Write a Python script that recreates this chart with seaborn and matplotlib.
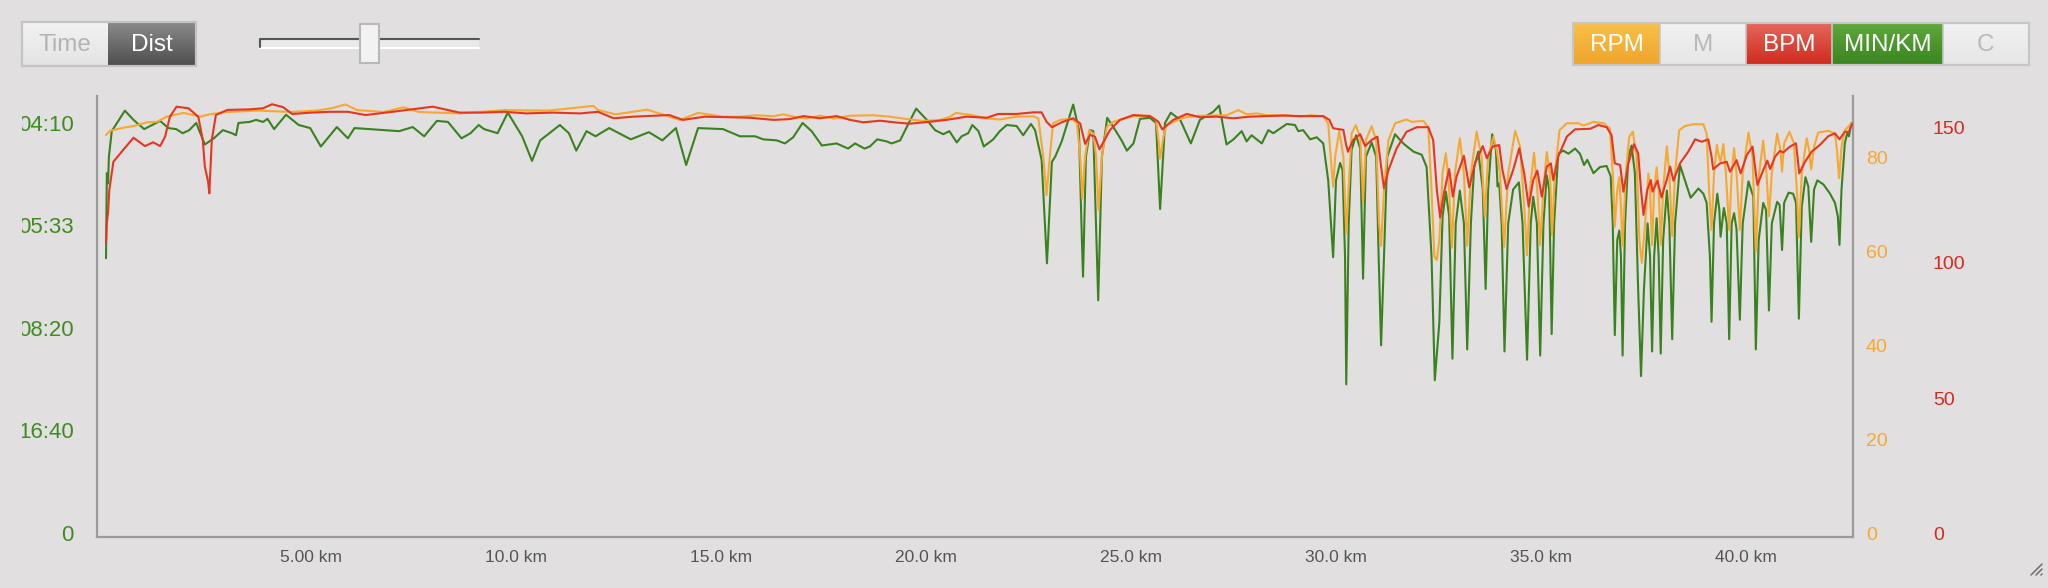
import numpy as np
import seaborn as sns
import matplotlib
matplotlib.use("Agg")
from matplotlib import pyplot as plt
from matplotlib.colors import LinearSegmentedColormap
from matplotlib.transforms import Bbox

W, H = 2048, 588

# (km, speed in m/s) - shown on the left axis as pace min/km
green_points = [
    (0.00, 2.68), (0.02, 3.51), (0.05, 3.41), (0.07, 3.67), (0.14, 3.92), (0.46, 4.12),
    (0.67, 4.03), (0.93, 3.94), (1.32, 4.02), (1.52, 3.95), (1.71, 3.94), (1.87, 3.90),
    (2.03, 3.93), (2.20, 4.00), (2.41, 3.79), (2.63, 3.85), (2.85, 3.93), (3.07, 3.90),
    (3.17, 3.88), (3.23, 4.00), (3.50, 4.01), (3.66, 4.03), (3.83, 4.01), (3.94, 4.04),
    (4.10, 3.94), (4.39, 4.08), (4.70, 3.98), (4.98, 3.95), (5.24, 3.77), (5.63, 3.96),
    (5.90, 3.85), (6.06, 3.95), (6.77, 3.93), (7.15, 3.92), (7.48, 3.96), (7.76, 3.87),
    (8.07, 4.02), (8.34, 4.01), (8.67, 3.85), (8.89, 3.90), (9.09, 3.98), (9.22, 3.94),
    (9.55, 3.90), (9.80, 4.10), (10.15, 3.87), (10.39, 3.63), (10.59, 3.83), (11.07, 3.98),
    (11.29, 3.90), (11.47, 3.73), (11.72, 3.92), (11.94, 3.87), (12.27, 3.95), (12.80, 3.84),
    (13.24, 3.91), (13.57, 3.83), (13.90, 3.95), (14.15, 3.59), (14.44, 3.95), (15.05, 3.94),
    (15.46, 3.87), (15.83, 3.87), (16.03, 3.84), (16.36, 3.83), (16.56, 3.80), (16.76, 3.86),
    (16.99, 4.00), (17.21, 3.92), (17.46, 3.78), (17.82, 3.80), (18.10, 3.75), (18.27, 3.80),
    (18.50, 3.75), (18.63, 3.77), (18.81, 3.84), (19.04, 3.82), (19.16, 3.80), (19.37, 3.83),
    (19.53, 3.96), (19.76, 4.14), (20.02, 4.03), (20.22, 3.93), (20.42, 3.89), (20.57, 3.92),
    (20.75, 3.81), (20.87, 3.87), (21.03, 3.90), (21.13, 3.98), (21.28, 3.92), (21.41, 3.77),
    (21.64, 3.84), (21.80, 3.92), (21.97, 3.98), (22.21, 3.97), (22.37, 3.88), (22.56, 3.99),
    (22.66, 3.93), (22.82, 3.64), (22.95, 2.63), (23.07, 3.62), (23.15, 3.67), (23.31, 3.82),
    (23.59, 4.18), (23.73, 3.93), (23.80, 2.89), (23.83, 2.50), (23.90, 3.67), (24.00, 3.93),
    (24.08, 3.92), (24.20, 2.27), (24.29, 3.67), (24.42, 4.05), (24.57, 3.96), (24.77, 3.83),
    (24.90, 3.73), (25.06, 3.80), (25.22, 4.04), (25.46, 4.05), (25.61, 4.00), (25.71, 3.16),
    (25.83, 4.00), (25.97, 4.10), (26.20, 4.03), (26.46, 3.80), (26.68, 4.03), (27.01, 4.11),
    (27.15, 4.17), (27.33, 3.79), (27.50, 3.84), (27.70, 3.92), (27.82, 3.82), (27.94, 3.88),
    (28.19, 3.80), (28.35, 3.93), (28.47, 3.90), (28.80, 3.99), (29.00, 3.98), (29.08, 3.92),
    (29.20, 3.93), (29.37, 3.84), (29.53, 3.86), (29.69, 3.80), (29.81, 3.44), (29.93, 2.69),
    (30.00, 3.44), (30.10, 3.61), (30.16, 3.54), (30.22, 2.70), (30.25, 1.45), (30.31, 3.02),
    (30.38, 3.74), (30.49, 3.88), (30.59, 3.75), (30.66, 2.48), (30.73, 3.67), (30.87, 3.81),
    (30.98, 3.67), (31.04, 2.70), (31.10, 1.83), (31.17, 2.70), (31.25, 3.67), (31.44, 3.89),
    (31.64, 3.80), (31.89, 3.72), (32.09, 3.69), (32.21, 3.57), (32.33, 2.70), (32.41, 1.49),
    (32.52, 2.05), (32.60, 3.09), (32.68, 3.33), (32.76, 3.09), (32.84, 1.70), (32.92, 3.02),
    (33.02, 3.34), (33.12, 3.02), (33.20, 1.79), (33.29, 3.02), (33.37, 3.57), (33.47, 3.72),
    (33.58, 3.35), (33.65, 2.38), (33.71, 3.35), (33.81, 3.89), (33.90, 3.74), (33.94, 3.38),
    (33.98, 3.41), (34.04, 3.02), (34.11, 1.77), (34.20, 3.02), (34.32, 3.35), (34.46, 3.42),
    (34.55, 3.02), (34.66, 1.69), (34.75, 3.02), (34.81, 3.28), (34.90, 3.02), (34.98, 1.73),
    (35.06, 3.02), (35.14, 3.49), (35.20, 3.35), (35.26, 1.94), (35.32, 3.02), (35.42, 3.70),
    (35.54, 3.73), (35.67, 3.70), (35.83, 3.75), (35.95, 3.70), (36.05, 3.59), (36.13, 3.64),
    (36.28, 3.51), (36.44, 3.57), (36.60, 3.58), (36.70, 3.48), (36.75, 3.02), (36.80, 1.93),
    (36.86, 2.86), (36.91, 2.95), (36.95, 2.70), (36.99, 1.73), (37.05, 3.02), (37.13, 3.67),
    (37.21, 3.78), (37.29, 3.51), (37.37, 2.37), (37.44, 1.53), (37.51, 2.37), (37.60, 3.02),
    (37.66, 2.70), (37.71, 1.77), (37.76, 2.70), (37.82, 3.07), (37.87, 2.70), (37.92, 1.75),
    (37.98, 2.86), (38.07, 3.34), (38.13, 3.02), (38.20, 1.89), (38.27, 3.02), (38.39, 3.59),
    (38.51, 3.44), (38.65, 3.27), (38.84, 3.36), (38.96, 3.31), (39.04, 3.22), (39.12, 2.70),
    (39.16, 2.06), (39.22, 3.02), (39.30, 3.31), (39.35, 3.15), (39.38, 2.89), (39.46, 3.17),
    (39.53, 3.02), (39.59, 1.89), (39.65, 3.02), (39.71, 3.12), (39.77, 2.96), (39.85, 2.08),
    (39.92, 3.02), (40.06, 3.43), (40.18, 3.28), (40.24, 1.79), (40.31, 2.86), (40.42, 3.22),
    (40.49, 3.15), (40.56, 2.17), (40.63, 3.02), (40.76, 3.23), (40.82, 3.20), (40.88, 2.76),
    (40.93, 3.22), (41.04, 3.32), (41.15, 3.31), (41.22, 3.22), (41.29, 2.09), (41.36, 3.18),
    (41.45, 3.47), (41.52, 3.38), (41.59, 2.84), (41.66, 3.35), (41.74, 3.44), (41.89, 3.40),
    (42.05, 3.31), (42.17, 3.22), (42.24, 3.09), (42.28, 2.81), (42.33, 3.35), (42.41, 3.80),
    (42.47, 3.90), (42.51, 3.87), (42.57, 4.00),
]

# (km, cadence rpm)
rpm_points = [
    (0.00, 84.7), (0.10, 85.6), (0.45, 86.3), (0.67, 86.6), (1.00, 87.4), (1.24, 87.5),
    (1.48, 88.6), (1.89, 89.4), (2.30, 88.6), (2.52, 89.1), (2.95, 89.6), (3.72, 89.9),
    (4.48, 89.6), (5.14, 89.9), (5.51, 90.4), (5.84, 91.2), (6.12, 90.0), (6.77, 89.6),
    (7.26, 90.6), (7.63, 89.6), (8.62, 89.3), (9.71, 90.0), (10.80, 89.9), (11.89, 90.9),
    (12.00, 90.0), (12.43, 89.1), (13.20, 90.1), (14.00, 87.9), (14.44, 89.4), (15.05, 88.6),
    (15.46, 88.6), (15.87, 88.9), (16.28, 88.7), (16.52, 89.1), (16.76, 88.6), (17.09, 88.2),
    (17.41, 88.8), (17.74, 88.2), (18.15, 88.8), (18.71, 88.9), (19.12, 88.6), (19.53, 88.1),
    (19.93, 87.7), (20.34, 87.9), (20.59, 88.6), (20.73, 89.4), (21.15, 88.9), (21.48, 88.2),
    (21.80, 88.0), (22.21, 88.6), (22.62, 88.7), (22.74, 88.2), (22.86, 80.1), (22.94, 71.9),
    (23.02, 80.1), (23.10, 87.2), (23.27, 87.9), (23.55, 88.2), (23.68, 87.2), (23.76, 80.1),
    (23.81, 71.2), (23.88, 80.1), (23.98, 85.7), (24.08, 85.0), (24.15, 80.1), (24.21, 68.7),
    (24.29, 80.1), (24.41, 86.4), (24.57, 87.5), (25.06, 88.7), (25.46, 88.8), (25.61, 87.9),
    (25.67, 83.6), (25.71, 79.7), (25.79, 84.3), (25.87, 86.8), (26.28, 88.4), (26.68, 88.8),
    (27.33, 88.9), (27.62, 90.0), (27.82, 89.1), (28.07, 89.3), (28.31, 88.9), (28.80, 88.9),
    (29.12, 88.6), (29.37, 88.9), (29.69, 88.7), (29.81, 87.2), (29.87, 80.1), (29.93, 73.7),
    (29.98, 80.1), (30.08, 85.6), (30.18, 80.1), (30.25, 63.8), (30.38, 85.0), (30.48, 86.8),
    (30.59, 84.3), (30.66, 70.5), (30.73, 83.6), (30.87, 86.6), (30.98, 83.6), (31.05, 65.9),
    (31.10, 61.1), (31.17, 73.0), (31.28, 83.6), (31.44, 87.2), (31.72, 88.0), (31.85, 87.5),
    (32.13, 87.7), (32.25, 86.4), (32.33, 73.0), (32.40, 58.8), (32.46, 58.1), (32.52, 62.3),
    (32.60, 76.7), (32.68, 80.8), (32.76, 73.0), (32.83, 60.7), (32.90, 76.5), (33.02, 84.0),
    (33.12, 76.5), (33.20, 61.1), (33.29, 76.5), (33.43, 85.4), (33.55, 80.1), (33.63, 67.3),
    (33.71, 80.1), (33.84, 84.3), (33.92, 81.5), (34.00, 76.5), (34.10, 60.9), (34.20, 76.5),
    (34.37, 85.6), (34.49, 82.2), (34.59, 69.4), (34.66, 59.1), (34.73, 73.0), (34.83, 80.9),
    (34.91, 73.0), (34.98, 61.3), (35.06, 73.0), (35.14, 81.1), (35.22, 76.5), (35.27, 63.4),
    (35.34, 76.5), (35.45, 85.7), (35.63, 87.2), (35.91, 87.2), (36.04, 86.7), (36.28, 87.5),
    (36.53, 87.2), (36.68, 86.1), (36.75, 76.5), (36.80, 65.2), (36.86, 73.0), (36.91, 75.7),
    (36.95, 69.4), (36.99, 61.1), (37.07, 76.5), (37.15, 84.3), (37.24, 85.4), (37.33, 80.1),
    (37.40, 62.3), (37.46, 57.5), (37.54, 65.9), (37.62, 76.5), (37.66, 73.0), (37.71, 61.3),
    (37.76, 73.0), (37.82, 77.8), (37.87, 73.0), (37.92, 61.3), (37.98, 73.0), (38.07, 82.3),
    (38.13, 76.5), (38.20, 63.2), (38.27, 76.5), (38.37, 85.7), (38.51, 86.6), (38.71, 87.0),
    (38.96, 87.0), (39.04, 85.0), (39.10, 73.0), (39.16, 64.5), (39.22, 76.5), (39.29, 82.6),
    (39.34, 80.1), (39.38, 79.0), (39.45, 82.8), (39.51, 76.5), (39.59, 64.5), (39.65, 76.5),
    (39.71, 81.9), (39.77, 76.5), (39.85, 64.5), (39.92, 76.5), (40.06, 85.2), (40.16, 80.1),
    (40.24, 59.9), (40.32, 76.5), (40.42, 83.5), (40.50, 76.5), (40.56, 67.4), (40.63, 76.5),
    (40.76, 85.0), (40.84, 81.5), (40.88, 76.9), (40.93, 82.9), (41.06, 85.4), (41.17, 82.9),
    (41.24, 73.0), (41.29, 63.0), (41.36, 76.5), (41.48, 84.0), (41.54, 81.5), (41.59, 77.4),
    (41.66, 82.2), (41.76, 85.2), (42.01, 85.6), (42.17, 85.0), (42.22, 81.5), (42.27, 75.5),
    (42.33, 82.2), (42.41, 85.7), (42.49, 86.4), (42.57, 87.2),
]

# (km, heart rate bpm)
bpm_points = [
    (0.00, 107.3), (0.02, 114.7), (0.05, 119.0), (0.08, 127.0), (0.18, 137.5), (0.42, 141.9),
    (0.67, 146.4), (0.95, 143.3), (1.15, 144.7), (1.32, 143.3), (1.44, 146.8), (1.56, 154.2),
    (1.72, 157.9), (2.01, 157.3), (2.25, 154.2), (2.36, 145.6), (2.41, 135.7), (2.49, 130.1),
    (2.52, 125.8), (2.58, 145.6), (2.68, 154.8), (2.96, 156.7), (3.50, 156.9), (3.83, 157.3),
    (4.05, 158.8), (4.32, 157.7), (4.54, 155.2), (5.02, 155.7), (5.46, 156.0), (5.90, 156.0),
    (6.33, 154.8), (6.99, 156.0), (7.97, 157.9), (8.62, 155.7), (9.17, 155.7), (9.71, 156.0),
    (10.25, 155.4), (10.90, 155.7), (11.56, 155.4), (12.00, 156.0), (12.38, 153.6), (12.87, 154.2),
    (13.74, 154.8), (14.07, 153.0), (14.61, 154.2), (15.70, 153.8), (16.28, 153.0), (16.68, 153.3),
    (17.01, 154.4), (17.41, 153.6), (17.82, 154.4), (18.15, 153.0), (18.47, 152.1), (18.88, 152.7),
    (19.29, 152.0), (19.61, 151.6), (20.02, 152.2), (20.50, 153.0), (20.99, 154.2), (21.48, 153.8),
    (21.76, 155.2), (22.21, 155.2), (22.62, 155.8), (22.82, 155.8), (22.94, 152.3), (23.07, 150.3),
    (23.31, 152.1), (23.59, 153.6), (23.76, 151.7), (23.88, 144.1), (24.00, 147.4), (24.12, 146.8),
    (24.23, 142.1), (24.49, 149.3), (24.73, 153.0), (25.06, 154.8), (25.46, 154.4), (25.67, 152.3),
    (25.76, 149.5), (26.03, 153.0), (26.36, 155.2), (26.68, 154.0), (27.09, 154.2), (27.50, 153.6),
    (27.90, 154.2), (28.71, 154.6), (29.12, 154.4), (29.69, 154.4), (29.84, 153.0), (29.93, 149.9),
    (30.18, 149.3), (30.24, 144.3), (30.29, 141.2), (30.42, 145.6), (30.59, 147.7), (30.71, 143.3),
    (30.87, 145.6), (31.01, 146.8), (31.10, 135.7), (31.17, 127.7), (31.28, 134.4), (31.48, 142.5),
    (31.72, 148.6), (31.97, 150.3), (32.25, 150.3), (32.37, 145.6), (32.46, 127.0), (32.54, 116.9),
    (32.63, 125.8), (32.76, 134.8), (32.85, 124.6), (32.94, 132.0), (33.12, 139.7), (33.25, 128.0),
    (33.39, 136.9), (33.58, 143.3), (33.68, 138.8), (33.82, 143.1), (33.98, 143.7), (34.06, 134.4),
    (34.16, 127.4), (34.32, 134.4), (34.47, 142.5), (34.59, 133.2), (34.70, 120.9), (34.81, 130.7),
    (34.91, 134.2), (35.02, 124.6), (35.14, 135.7), (35.24, 136.9), (35.30, 130.7), (35.42, 139.4),
    (35.63, 146.8), (35.83, 149.5), (36.20, 149.7), (36.40, 151.1), (36.60, 150.3), (36.72, 147.4),
    (36.80, 136.9), (36.93, 136.3), (37.01, 126.4), (37.13, 136.9), (37.27, 144.0), (37.37, 140.6),
    (37.44, 127.0), (37.50, 117.8), (37.59, 127.0), (37.68, 130.7), (37.72, 126.4), (37.84, 130.5),
    (37.94, 124.3), (38.07, 131.0), (38.15, 135.7), (38.23, 130.5), (38.39, 136.9), (38.59, 141.2),
    (38.76, 145.8), (38.92, 144.9), (39.08, 145.8), (39.16, 139.4), (39.20, 134.7), (39.37, 136.9),
    (39.53, 137.5), (39.61, 133.8), (39.77, 138.1), (39.87, 133.2), (40.02, 140.0), (40.16, 143.1),
    (40.24, 133.2), (40.28, 128.9), (40.42, 134.4), (40.52, 137.9), (40.59, 134.8), (40.71, 139.4),
    (40.83, 141.5), (40.91, 140.9), (41.07, 143.1), (41.22, 144.3), (41.30, 133.2), (41.44, 137.5),
    (41.60, 141.2), (41.80, 143.7), (42.01, 147.0), (42.17, 148.0), (42.28, 145.8), (42.41, 148.6),
    (42.51, 148.6), (42.59, 151.5),
]

km_ticks = [5, 10, 15, 20, 25, 30, 35, 40]
km_labels = ["5.00 km", "10.0 km", "15.0 km", "20.0 km", "25.0 km", "30.0 km", "35.0 km", "40.0 km"]
speed_ticks = [0, 1, 2, 3, 4]
rpm_ticks = [0, 20, 40, 60, 80]
bpm_ticks = [0, 50, 100, 150]

BG = "#e1dfdf"
GREEN = "#3a8220"
GREEN_TXT = "#3f8c22"
ORANGE = "#f6a832"
RED = "#e6361f"
RED_TXT = "#d42b20"
SPINE = "#9b9b9b"
PT = 72 / 100  # points per pixel at dpi 100


def pace_label(v):
    if v == 0:
        return "0"
    secs = int(1000 / v)
    return f"{secs // 60:02d}:{secs % 60:02d}"


def rect_axes(fig, x0, y0, x1, y1):
    return fig.add_axes([x0 / W, 1 - y1 / H, (x1 - x0) / W, (y1 - y0) / H])


def button(ov, x0, y0, x1, y1, label, top, bottom, txt):
    cmap = LinearSegmentedColormap.from_list("g", [top, bottom])
    ov.imshow(np.linspace(0, 1, 40).reshape(-1, 1), cmap=cmap, aspect="auto",
              extent=(x0, x1, y1, y0), zorder=1)
    ov.text((x0 + x1) / 2, (y0 + y1) / 2 + 1, label, ha="center", va="center",
            color=txt, fontsize=17.5, zorder=3)


def draw_controls(fig):
    ov = fig.add_axes([0, 0, 1, 1], zorder=5)
    ov.axis("off")
    # time / dist toggle
    button(ov, 22, 22, 108, 66, "Time", "#f2f2f2", "#e4e4e4", "#b3b3b3")
    button(ov, 108, 22, 196, 66, "Dist", "#8a8a8a", "#4e4e4e", "white")
    ov.add_patch(plt.Rectangle((22, 22), 174, 44, fill=False, ec="#c3c3c3", lw=1.6, zorder=4))
    # slider
    ov.add_patch(plt.Rectangle((260, 38), 219, 10, fc="#eaeaeb", ec="none", zorder=2))
    ov.plot([260, 479], [48, 48], color="white", lw=1.5, zorder=3)
    ov.plot([260, 260, 479], [47, 38.5, 38.5], color="#555555", lw=1.5, zorder=3)
    ov.add_patch(plt.Rectangle((360, 24), 19, 39, fc="#f2f2f2", ec="#b8b8b8", lw=1.5, zorder=4))
    # series buttons
    button(ov, 1573, 23, 1660, 65, "RPM", "#f8bf48", "#f0a42b", "white")
    button(ov, 1660, 23, 1746, 65, "M", "#f1f1f1", "#e6e6e6", "#b8b8b8")
    button(ov, 1746, 23, 1832, 65, "BPM", "#e4675a", "#d02a1d", "white")
    button(ov, 1832, 23, 1943, 65, "MIN/KM", "#5ea83c", "#3a8520", "white")
    button(ov, 1943, 23, 2029, 65, "C", "#f1f1f1", "#e6e6e6", "#b8b8b8")
    ov.add_patch(plt.Rectangle((1573, 23), 456, 42, fill=False, ec="#c6c6c6", lw=1.6, zorder=4))
    for xb in (1660, 1746, 1832, 1943):
        ov.plot([xb, xb], [23, 65], color="#c6c6c6", lw=1.2, zorder=4)
    # resize grip
    for d in (0, 5, 10):
        ov.plot([2031 + d, 2042], [575, 564 + d], color="#6d6d6d", lw=1.1, zorder=4)
    ov.set_xlim(0, W)
    ov.set_ylim(H, 0)


def plot_chart(fig):
    ax = rect_axes(fig, 97, 96, 1853, 537)
    ax.set_facecolor(BG)
    ax_rpm = ax.twinx()
    ax_bpm = ax.twinx()

    g_km, g_ms = zip(*green_points)
    r_km, r_val = zip(*rpm_points)
    b_km, b_val = zip(*bpm_points)

    sns.lineplot(x=list(g_km), y=list(g_ms), ax=ax, color=GREEN, lw=1.5,
                 estimator=None, sort=False)
    sns.lineplot(x=list(r_km), y=list(r_val), ax=ax_rpm, color=ORANGE, lw=1.5,
                 estimator=None, sort=False)
    sns.lineplot(x=list(b_km), y=list(b_val), ax=ax_bpm, color=RED, lw=1.5,
                 estimator=None, sort=False)

    ax.set_xlim(-0.22, 42.61)
    ax.set_ylim(-0.04, 4.263)
    ax_rpm.set_ylim(-0.85, 93.0)
    ax_bpm.set_ylim(-1.48, 161.85)

    ax.set_xticks(km_ticks, km_labels)
    ax.set_yticks(speed_ticks, [pace_label(v) for v in speed_ticks])
    ax_rpm.set_yticks(rpm_ticks, [str(v) for v in rpm_ticks])
    ax_bpm.set_yticks(bpm_ticks, [str(v) for v in bpm_ticks])

    ax.tick_params(axis="x", length=0, pad=13 * PT, labelsize=12.5, labelcolor="#555555")
    ax.tick_params(axis="y", length=0, pad=23 * PT, labelsize=16, labelcolor=GREEN_TXT)
    ax_rpm.tick_params(axis="y", length=0, pad=13 * PT, labelsize=14, labelcolor=ORANGE)
    ax_bpm.tick_params(axis="y", length=0, pad=80 * PT, labelsize=14, labelcolor=RED_TXT)

    for a in (ax, ax_rpm, ax_bpm):
        a.set(xlabel="", ylabel="")
        a.grid(False)
        for s in a.spines.values():
            s.set_visible(False)
    for side in ("left", "bottom"):
        ax.spines[side].set_visible(True)
        ax.spines[side].set_color(SPINE)
        ax.spines[side].set_linewidth(1.6)
    ax_rpm.spines["right"].set_visible(True)
    ax_rpm.spines["right"].set_color(SPINE)
    ax_rpm.spines["right"].set_linewidth(1.6)

    # left labels are cut by the container edge in the original
    clip = Bbox.from_extents(22, 0, W, H)
    for t in ax.get_yticklabels():
        t.set_clip_on(True)
        t.set_clip_box(clip)


def main():
    sns.set_theme(style="white")
    plt.rcParams["font.family"] = ["Liberation Sans", "DejaVu Sans"]
    fig = plt.figure(figsize=(W / 100, H / 100), dpi=100, facecolor=BG)
    plot_chart(fig)
    draw_controls(fig)
    fig.savefig("out.png", dpi=100, facecolor=BG)
    plt.close(fig)


if __name__ == "__main__":
    main()
